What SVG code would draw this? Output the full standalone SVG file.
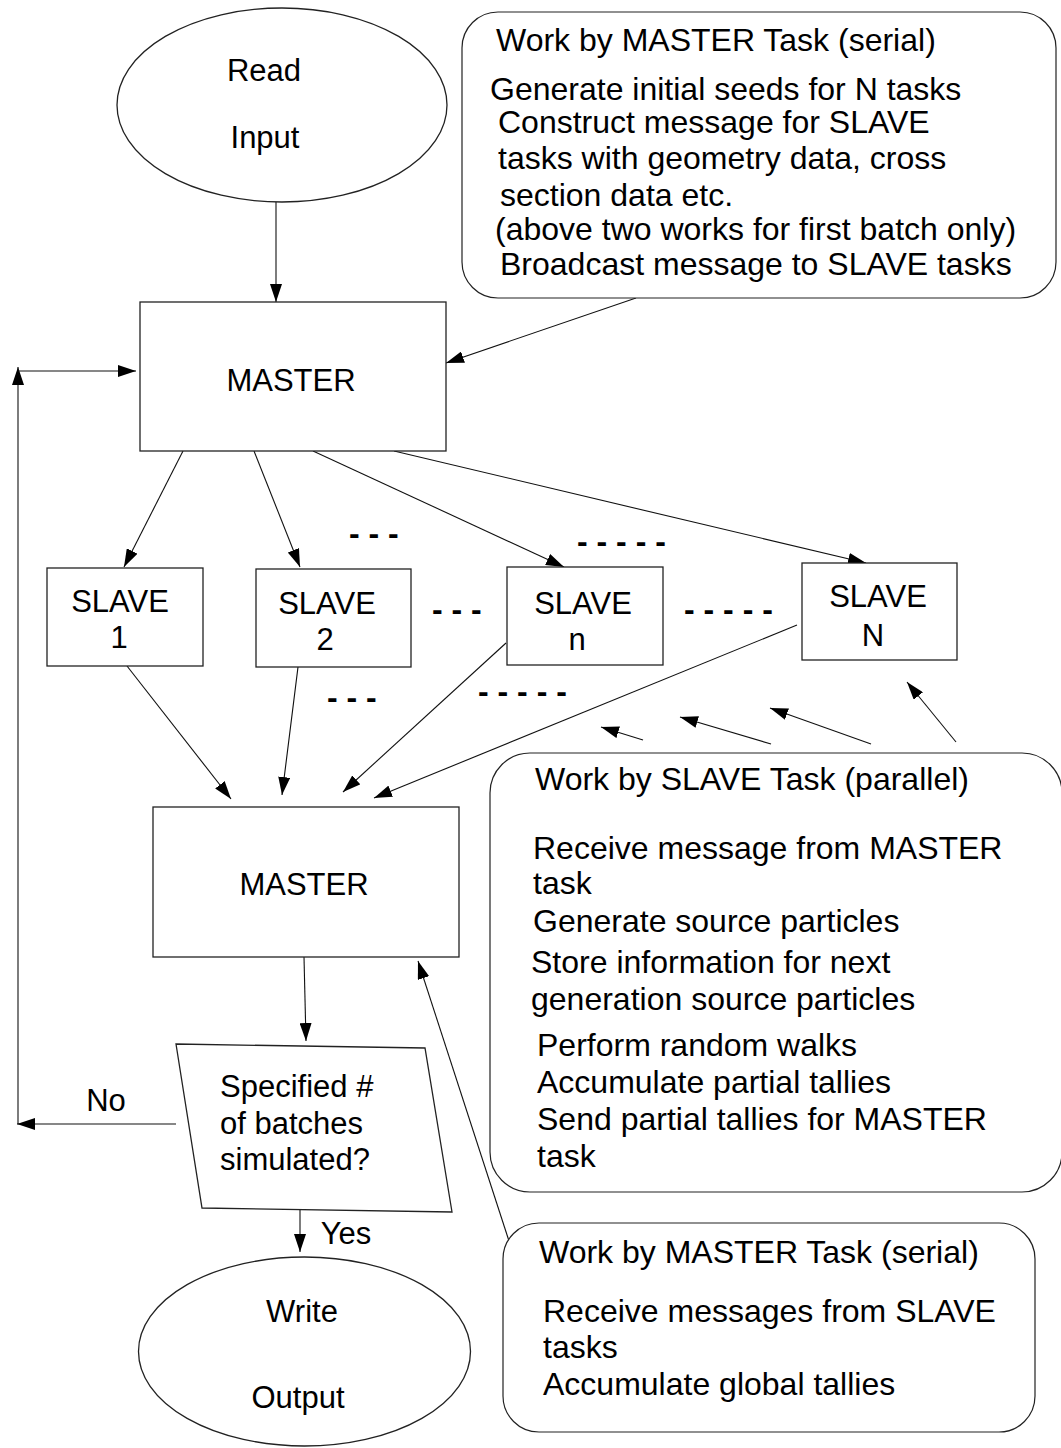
<svg xmlns="http://www.w3.org/2000/svg" width="1061" height="1448" viewBox="0 0 1061 1448">
<style>
text{font-family:"Liberation Sans",Arial,sans-serif;fill:#000}
.n{font-size:31px;text-anchor:middle}
.c{font-size:32px}
.d{font-size:32px;font-weight:bold}
.shape{fill:#fff;stroke:#222;stroke-width:1.3}
.call{fill:#fff;stroke:#222;stroke-width:1.2}
.con{fill:none;stroke:#111;stroke-width:1.1}
</style>
<defs>
<marker id="ah" markerUnits="userSpaceOnUse" markerWidth="18" markerHeight="12" refX="18" refY="6" orient="auto">
<path d="M0,0 L18,6 L0,12 z" fill="#000"/>
</marker>
</defs>
<rect width="1061" height="1448" fill="#fff"/>

<g id="connectors">
<line class="con" x1="276" y1="202" x2="276" y2="302" marker-end="url(#ah)"/>
<line class="con" x1="636" y1="298" x2="446" y2="363" marker-end="url(#ah)"/>
<line class="con" x1="18" y1="1124" x2="18" y2="367" marker-end="url(#ah)"/>
<line class="con" x1="18" y1="371" x2="136" y2="371" marker-end="url(#ah)"/>
<line class="con" x1="183" y1="451" x2="124" y2="567" marker-end="url(#ah)"/>
<line class="con" x1="254" y1="451" x2="300" y2="567" marker-end="url(#ah)"/>
<line class="con" x1="313" y1="451" x2="564" y2="567" marker-end="url(#ah)"/>
<line class="con" x1="394" y1="451" x2="866" y2="563" marker-end="url(#ah)"/>
<line class="con" x1="127" y1="666" x2="231" y2="799" marker-end="url(#ah)"/>
<line class="con" x1="298" y1="667" x2="282" y2="795" marker-end="url(#ah)"/>
<line class="con" x1="506" y1="643" x2="343" y2="792" marker-end="url(#ah)"/>
<line class="con" x1="797" y1="625" x2="374" y2="798" marker-end="url(#ah)"/>
<line class="con" x1="643" y1="740" x2="601" y2="727" marker-end="url(#ah)"/>
<line class="con" x1="771" y1="744" x2="680" y2="717" marker-end="url(#ah)"/>
<line class="con" x1="871" y1="744" x2="770" y2="708" marker-end="url(#ah)"/>
<line class="con" x1="956" y1="742" x2="907" y2="682" marker-end="url(#ah)"/>
<line class="con" x1="304" y1="957" x2="306" y2="1041" marker-end="url(#ah)"/>
<line class="con" x1="176" y1="1124" x2="17" y2="1124" marker-end="url(#ah)"/>
<line class="con" x1="300" y1="1205" x2="300" y2="1252" marker-end="url(#ah)"/>
<line class="con" x1="509" y1="1241" x2="418" y2="961" marker-end="url(#ah)"/>
<text class="n" x="106" y="1111">No</text>
<text class="n" x="346" y="1244">Yes</text>
<text class="d" x="349" y="544">- - -</text>
<text class="d" x="577" y="552">- - - - -</text>
<text class="d" x="432" y="620">- - -</text>
<text class="d" x="684" y="620">- - - - -</text>
<text class="d" x="327" y="708">- - -</text>
<text class="d" x="478" y="702">- - - - -</text>
</g>

<g id="read-input">
<ellipse class="shape" cx="282" cy="105" rx="165" ry="97"/>
<text class="n" x="264" y="81">Read</text>
<text class="n" x="265" y="148">Input</text>
</g>

<g id="callout-master-1">
<rect class="call" x="462" y="12" width="594" height="286" rx="36" ry="36"/>
<text class="c" x="496" y="51">Work by MASTER Task (serial)</text>
<text class="c" x="490" y="100">Generate initial seeds for N tasks</text>
<text class="c" x="498" y="133">Construct message for SLAVE</text>
<text class="c" x="498" y="169">tasks with geometry data, cross</text>
<text class="c" x="500" y="206">section data etc.</text>
<text class="c" x="495" y="240">(above two works for first batch only)</text>
<text class="c" x="500" y="275">Broadcast message to SLAVE tasks</text>
</g>

<g id="master-1">
<rect class="shape" x="140" y="302" width="306" height="149"/>
<text class="n" x="291" y="391">MASTER</text>
</g>

<g id="slave-1">
<rect class="shape" x="47" y="568" width="156" height="98"/>
<text class="n" x="120" y="612">SLAVE</text>
<text class="n" x="119" y="648">1</text>
</g>
<g id="slave-2">
<rect class="shape" x="256" y="569" width="155" height="98"/>
<text class="n" x="327" y="614">SLAVE</text>
<text class="n" x="325" y="650">2</text>
</g>
<g id="slave-n">
<rect class="shape" x="507" y="567" width="156" height="98"/>
<text class="n" x="583" y="614">SLAVE</text>
<text class="n" x="577" y="650">n</text>
</g>
<g id="slave-N">
<rect class="shape" x="802" y="563" width="155" height="97"/>
<text class="n" x="878" y="607">SLAVE</text>
<text class="n" x="873" y="646">N</text>
</g>

<g id="callout-slave">
<rect class="call" x="490" y="753" width="572" height="439" rx="40" ry="40"/>
<text class="c" x="535" y="790">Work by SLAVE Task (parallel)</text>
<text class="c" x="533" y="859">Receive message from MASTER</text>
<text class="c" x="533" y="894">task</text>
<text class="c" x="533" y="932">Generate source particles</text>
<text class="c" x="531" y="973">Store information for next</text>
<text class="c" x="531" y="1010">generation source particles</text>
<text class="c" x="537" y="1056">Perform random walks</text>
<text class="c" x="537" y="1093">Accumulate partial tallies</text>
<text class="c" x="537" y="1130">Send partial tallies for MASTER</text>
<text class="c" x="537" y="1167">task</text>
</g>

<g id="master-2">
<rect class="shape" x="153" y="807" width="306" height="150"/>
<text class="n" x="304" y="895">MASTER</text>
</g>

<g id="decision">
<polygon class="shape" points="176,1044 425,1048 452,1212 202,1208"/>
<text class="n" x="220" y="1097" style="text-anchor:start">Specified #</text>
<text class="n" x="220" y="1134" style="text-anchor:start">of batches</text>
<text class="n" x="220" y="1170" style="text-anchor:start">simulated?</text>
</g>

<g id="write-output">
<ellipse class="shape" cx="304.5" cy="1351.5" rx="166" ry="94.5"/>
<text class="n" x="302" y="1322">Write</text>
<text class="n" x="298" y="1408">Output</text>
</g>

<g id="callout-master-2">
<rect class="call" x="503" y="1223" width="532" height="209" rx="36" ry="36"/>
<text class="c" x="539" y="1263">Work by MASTER Task (serial)</text>
<text class="c" x="543" y="1322">Receive messages from SLAVE</text>
<text class="c" x="543" y="1358">tasks</text>
<text class="c" x="543" y="1395">Accumulate global tallies</text>
</g>
</svg>
